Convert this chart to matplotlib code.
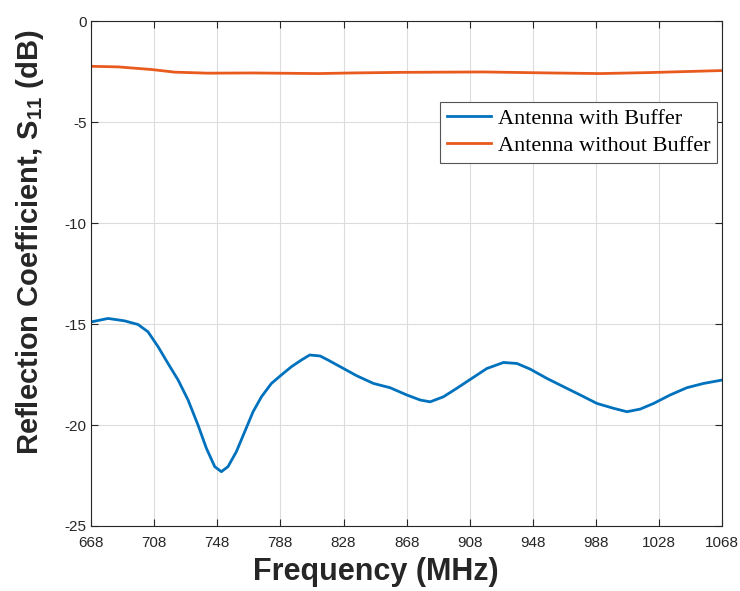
import matplotlib
matplotlib.use("Agg")
import matplotlib.pyplot as plt

# Data
freq_with = [668.2, 678.8, 689.3, 697.8, 704.1, 710.5, 716.8, 723.2, 729.5, 735.8, 741.1,
             746.4, 750.6, 754.8, 760.1, 765.4, 770.7, 776.0, 782.3, 788.6, 795.0, 801.3,
             806.6, 813.2, 818.2, 828.0, 836.4, 847.0, 857.5, 868.1, 876.6, 882.9, 891.3,
             899.8, 908.3, 918.8, 929.4, 937.9, 946.3, 956.9, 967.4, 978.0, 988.6, 999.1,
             1007.6, 1016.0, 1024.5, 1035.0, 1045.6, 1056.1, 1068.0]
s11_with = [-14.89, -14.72, -14.84, -15.02, -15.38, -16.12, -16.95, -17.77, -18.76, -20.0,
            -21.15, -22.06, -22.31, -22.06, -21.32, -20.33, -19.34, -18.6, -17.94, -17.52,
            -17.11, -16.78, -16.53, -16.58, -16.78, -17.2, -17.56, -17.94, -18.15, -18.51,
            -18.76, -18.85, -18.6, -18.18, -17.74, -17.2, -16.9, -16.95, -17.23, -17.69,
            -18.1, -18.51, -18.93, -19.17, -19.34, -19.21, -18.93, -18.51, -18.15, -17.94,
            -17.77]

freq_without = [668, 685.3, 706.5, 721, 742, 770, 812, 833, 865, 916.5, 959, 990.7, 1022,
                1049.8, 1068]
s11_without = [-2.23, -2.26, -2.39, -2.52, -2.57, -2.56, -2.59, -2.56, -2.53, -2.51, -2.56,
               -2.59, -2.54, -2.48, -2.44]

xticks = [668, 708, 748, 788, 828, 868, 908, 948, 988, 1028, 1068]
yticks = [0, -5, -10, -15, -20, -25]
labels = ["Antenna with Buffer", "Antenna without Buffer"]

plt.rcParams['axes.unicode_minus'] = False
plt.rcParams['mathtext.fontset'] = 'custom'
plt.rcParams['mathtext.rm'] = 'Liberation Sans:bold'
plt.rcParams['mathtext.bf'] = 'Liberation Sans:bold'
plt.rcParams['mathtext.it'] = 'Liberation Sans:bold'

fig = plt.figure(figsize=(7.40, 5.91), dpi=100)
ax = fig.add_axes([0.123, 0.110, 0.853, 0.854])

ax.plot(freq_with, s11_with, color='#0072BD', lw=2.0, label=labels[0])
ax.plot(freq_without, s11_without, color='#E85A1E', lw=2.0, label=labels[1])

ax.set_xlim(668, 1068)
ax.set_ylim(-25, 0)
ax.set_xticks(xticks)
ax.set_yticks(yticks)
ax.grid(True, color='#dcdcdc', lw=0.8)
ax.set_axisbelow(True)

for s in ax.spines.values():
    s.set_color('#262626')
    s.set_linewidth(0.8)
ax.tick_params(direction='in', top=True, right=True, length=5, width=0.8,
               colors='#262626', labelsize=11)
ax.tick_params(axis='x', pad=7.5)
ax.tick_params(axis='y', pad=3)
for lbl in ax.get_xticklabels() + ax.get_yticklabels():
    lbl.set_fontfamily('Liberation Sans')
    lbl.set_color('#262626')

fig.text(376 / 740, 1 - 572 / 591, 'Frequency (MHz)', fontfamily='Liberation Sans',
         fontweight='bold', fontsize=22, color='#262626', ha='center', va='center')
fig.text(30 / 740, 1 - 242 / 591, 'Reflection Coefficient, S$_{11}$ (dB)',
         fontfamily='Liberation Sans', fontweight='bold', fontsize=21, color='#262626',
         ha='center', va='center', rotation=90)

leg = ax.legend(loc='upper right', bbox_to_anchor=(0.992, 0.84), borderaxespad=0,
                prop={'family': 'Liberation Serif', 'size': 16}, fancybox=False,
                framealpha=1, edgecolor='#555555', handlelength=2.0,
                borderpad=0.3, labelspacing=0.28, handletextpad=0.3)
leg.get_frame().set_linewidth(0.8)

fig.savefig('out.png', dpi=100)
